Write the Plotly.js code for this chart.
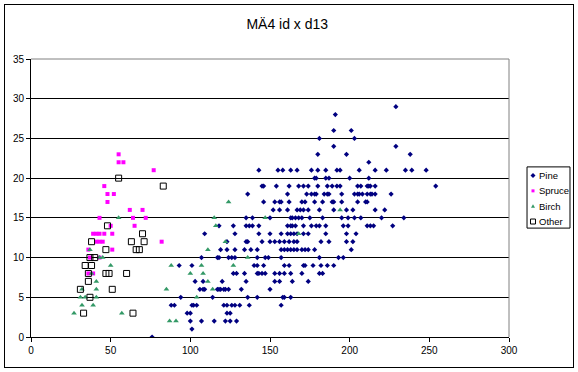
<!DOCTYPE html>
<html>
<head>
<meta charset="utf-8">
<script src="https://cdn.plot.ly/plotly-3.0.1.min.js"></script>
<style>
  html, body { margin: 0; padding: 0; background: #fff; }
  #wrap { position: relative; width: 578px; height: 372px; }
  #chart { width: 578px; height: 372px; }
  #frame { position: absolute; left: 4px; top: 4px; width: 570px; height: 364px; border: 1px solid #000; box-sizing: border-box; pointer-events: none; }
</style>
</head>
<body>
<div id="wrap"><div id="chart"></div><div id="frame"></div></div>
<script>
// ---- data (id on x, d13 on y) ----
const pineX = [
  229, 191, 190, 201, 181, 203, 190, 229, 180, 198, 238, 212,
  143, 155, 158, 163, 167, 176, 180, 185, 192, 194, 206, 216, 223, 235, 239, 248,
  178, 179, 185, 187, 200, 212,
  145, 146, 154, 162, 168, 171, 174, 180, 186, 189, 192, 194, 205, 207, 211, 212, 213, 216, 254,
  136, 161, 173, 176, 178, 179, 184, 186, 187, 195, 203, 205, 206, 208, 211, 213, 214, 216, 226,
  146, 153, 156, 157, 162, 170, 172, 178, 183, 189, 190, 195, 205, 210, 211,
  152, 156, 161, 167, 169, 171, 174, 181, 190, 198, 202, 216, 222,
  135, 139, 150, 163, 164, 166, 168, 170, 175, 183, 195, 199, 203, 207, 220, 234,
  118, 127, 135, 137, 139, 143, 161, 163, 164, 166, 171, 176, 179, 181, 185, 196, 199, 211, 213, 215, 227,
  109, 128, 143, 150, 157, 161, 163, 165, 167, 171, 174, 185, 198, 204,
  123, 135, 136, 145, 150, 153, 156, 159, 162, 165, 167, 182, 187, 198, 202,
  119, 123, 128, 134, 138, 142, 157, 159, 161, 163, 165, 167, 170, 172, 174, 178, 201,
  107, 117, 118, 124, 126, 128, 142, 147, 149, 157, 181, 193, 196,
  93, 101, 140, 142, 146, 159, 162, 171, 172, 177, 182, 186, 190,
  127, 129, 134, 142, 143, 145, 147, 153, 156, 159, 163, 170, 181, 183,
  103, 108, 120, 135, 153, 156, 164, 174,
  106, 108, 109, 117, 118, 119, 121, 122, 124, 132, 150,
  94, 114, 136, 142, 158, 159, 163,
  88, 90, 101, 102, 104, 121, 123, 126, 128, 131, 137, 157,
  98, 100, 123, 125,
  100, 107, 115, 122, 125, 129,
  101,
  76
];
const pineY = [
  29, 28, 26, 26, 25, 25, 24, 24, 23, 23, 23, 22,
  21, 21, 21, 21, 21, 21, 21, 21, 21, 21, 21, 21, 21, 21, 21, 21,
  20, 20, 20, 20, 20, 20,
  19, 19, 19, 19, 19, 19, 19, 19, 19, 19, 19, 19, 19, 19, 19, 19, 19, 19, 19,
  18, 18, 18, 18, 18, 18, 18, 18, 18, 18, 18, 18, 18, 18, 18, 18, 18, 18, 18,
  17, 17, 17, 17, 17, 17, 17, 17, 17, 17, 17, 17, 17, 17, 17,
  16, 16, 16, 16, 16, 16, 16, 16, 16, 16, 16, 16, 16,
  15, 15, 15, 15, 15, 15, 15, 15, 15, 15, 15, 15, 15, 15, 15, 15,
  14, 14, 14, 14, 14, 14, 14, 14, 14, 14, 14, 14, 14, 14, 14, 14, 14, 14, 14, 14, 14,
  13, 13, 13, 13, 13, 13, 13, 13, 13, 13, 13, 13, 13, 13,
  12, 12, 12, 12, 12, 12, 12, 12, 12, 12, 12, 12, 12, 12, 12,
  11, 11, 11, 11, 11, 11, 11, 11, 11, 11, 11, 11, 11, 11, 11, 11, 11,
  10, 10, 10, 10, 10, 10, 10, 10, 10, 10, 10, 10, 10,
  9, 9, 9, 9, 9, 9, 9, 9, 9, 9, 9, 9, 9,
  8, 8, 8, 8, 8, 8, 8, 8, 8, 8, 8, 8, 8, 8,
  7, 7, 7, 7, 7, 7, 7, 7,
  6, 6, 6, 6, 6, 6, 6, 6, 6, 6, 6,
  5, 5, 5, 5, 5, 5, 5,
  4, 4, 4, 4, 4, 4, 4, 4, 4, 4, 4, 4,
  3, 3, 3, 3,
  2, 2, 2, 2, 2, 2,
  1,
  0
];
const spruceX = [55, 55, 58, 77, 46, 48, 52, 48, 62, 70, 43, 64, 72, 65, 50, 39, 41, 43, 46, 51, 41, 43, 45, 82, 36, 51, 37, 43, 36, 39];
const spruceY = [23, 22, 22, 21, 19, 18, 18, 17, 16, 16, 15, 15, 15, 14, 14, 13, 13, 13, 13, 13, 12, 12, 12, 12, 11, 11, 10, 10, 8, 8];
const birchX = [55, 37, 43, 45, 50, 38, 41, 32, 41, 31, 34, 41, 32, 39, 27, 57, 87, 91, 85, 88, 100, 108, 111, 104, 114, 107, 111, 115, 116, 124, 122, 127, 136, 147, 168, 194];
const birchY = [15, 11, 10, 10, 9, 8, 7, 6, 6, 5, 5, 5, 4, 4, 3, 3, 2, 2, 6, 9, 8, 8, 7, 5, 6, 9, 11, 15, 14, 17, 12, 9, 10, 15, 13, 16];
const otherX = [55, 83, 48, 70, 38, 63, 71, 47, 66, 68, 37, 40, 34, 38, 36, 47, 49, 60, 36, 31, 51, 37, 33, 64];
const otherY = [20, 19, 14, 13, 12, 12, 12, 11, 11, 11, 10, 10, 9, 9, 8, 8, 8, 8, 7, 6, 6, 5, 3, 3];

const seriesNames = ["Pine", "Spruce", "Birch", "Other"];
const seriesColors = ["#000080", "#FF00FF", "#339966", "#000000"];
const chartTitle = "MÄ4 id x d13";
const xTicks = [0, 50, 100, 150, 200, 250, 300];
const yTicks = [0, 5, 10, 15, 20, 25, 30, 35];

const font = "Liberation Sans, Arial, sans-serif";

const traces = [
  { x: pineX, y: pineY, name: seriesNames[0], type: "scatter", mode: "markers",
    marker: { symbol: "diamond", size: 4, color: seriesColors[0] } },
  { x: spruceX, y: spruceY, name: seriesNames[1], type: "scatter", mode: "markers",
    marker: { symbol: "square", size: 4, color: seriesColors[1] } },
  { x: birchX, y: birchY, name: seriesNames[2], type: "scatter", mode: "markers",
    marker: { symbol: "triangle-up", size: 5, color: seriesColors[2] } },
  { x: otherX, y: otherY, name: seriesNames[3], type: "scatter", mode: "markers",
    marker: { symbol: "square-open", size: 6, color: seriesColors[3], line: { width: 1 } } }
];

// ---- hand-made compact legend (Excel style) ----
const legX = 1.0502;               // symbol centre (paper)
const legTextX = 1.0607;           // text start (paper)
const legRows = [0.5807, 0.5257, 0.4707, 0.4154];
const symbolPaths = [
  "M0,2.5 L2.5,0 L0,-2.5 L-2.5,0 Z",
  "M-1.5,-1.5 L1.5,-1.5 L1.5,1.5 L-1.5,1.5 Z",
  "M-2,-1.5 L2,-1.5 L0,2 Z",
  "M-2.5,-2.5 L2.5,-2.5 L2.5,2.5 L-2.5,2.5 Z"
];
const legendShapes = [
  { type: "rect", xref: "paper", yref: "paper", x0: 1.0377, x1: 1.1276, y0: 0.3917, y1: 0.6119,
    line: { color: "#000", width: 1 }, fillcolor: "#fff", layer: "above" }
].concat(seriesNames.map((n, i) => ({
  type: "path", xref: "paper", yref: "paper", xsizemode: "pixel", ysizemode: "pixel",
  xanchor: legX, yanchor: legRows[i], path: symbolPaths[i],
  fillcolor: i === 3 ? "rgba(0,0,0,0)" : seriesColors[i],
  line: { color: seriesColors[i], width: i === 3 ? 1 : 0 }, layer: "above"
})));
const legendAnnotations = seriesNames.map((n, i) => ({
  text: n, xref: "paper", yref: "paper", x: legTextX, y: legRows[i],
  xanchor: "left", yanchor: "middle", showarrow: false,
  font: { family: font, size: 9.5, color: "#000" }, borderpad: 0
}));

const layout = {
  width: 578, height: 372,
  margin: { l: 31, r: 69, t: 59, b: 35 },
  paper_bgcolor: "#ffffff", plot_bgcolor: "#ffffff",
  font: { family: font, size: 10, color: "#000" },
  title: { text: chartTitle, font: { family: font, size: 14, color: "#000" },
           xref: "container", x: 0.497, xanchor: "center",
           yref: "container", y: 0.935, yanchor: "middle" },
  xaxis: { range: [0, 300], tickvals: xTicks, ticktext: xTicks.map(String),
           showgrid: false, zeroline: false, showline: true, linecolor: "#000", linewidth: 1,
           ticks: "outside", ticklen: 4, tickcolor: "#000", tickfont: { size: 10 } },
  yaxis: { range: [0, 35], tickvals: yTicks, ticktext: yTicks.map(String),
           showgrid: true, gridcolor: "#000", gridwidth: 1,
           zeroline: false, showline: true, linecolor: "#000", linewidth: 1,
           ticks: "outside", ticklen: 4, tickcolor: "#000", tickfont: { size: 10 } },
  shapes: [
    { type: "line", xref: "paper", yref: "paper", x0: 0, x1: 1, y0: 1, y1: 1,
      line: { color: "#808080", width: 1 }, layer: "above" },
    { type: "line", xref: "paper", yref: "paper", x0: 1, x1: 1, y0: 0, y1: 1,
      line: { color: "#808080", width: 1 }, layer: "above" }
  ].concat(legendShapes),
  annotations: legendAnnotations,
  showlegend: false,
  hovermode: false
};

Plotly.newPlot("chart", traces, layout, { displayModeBar: false, staticPlot: true });
</script>
</body>
</html>
